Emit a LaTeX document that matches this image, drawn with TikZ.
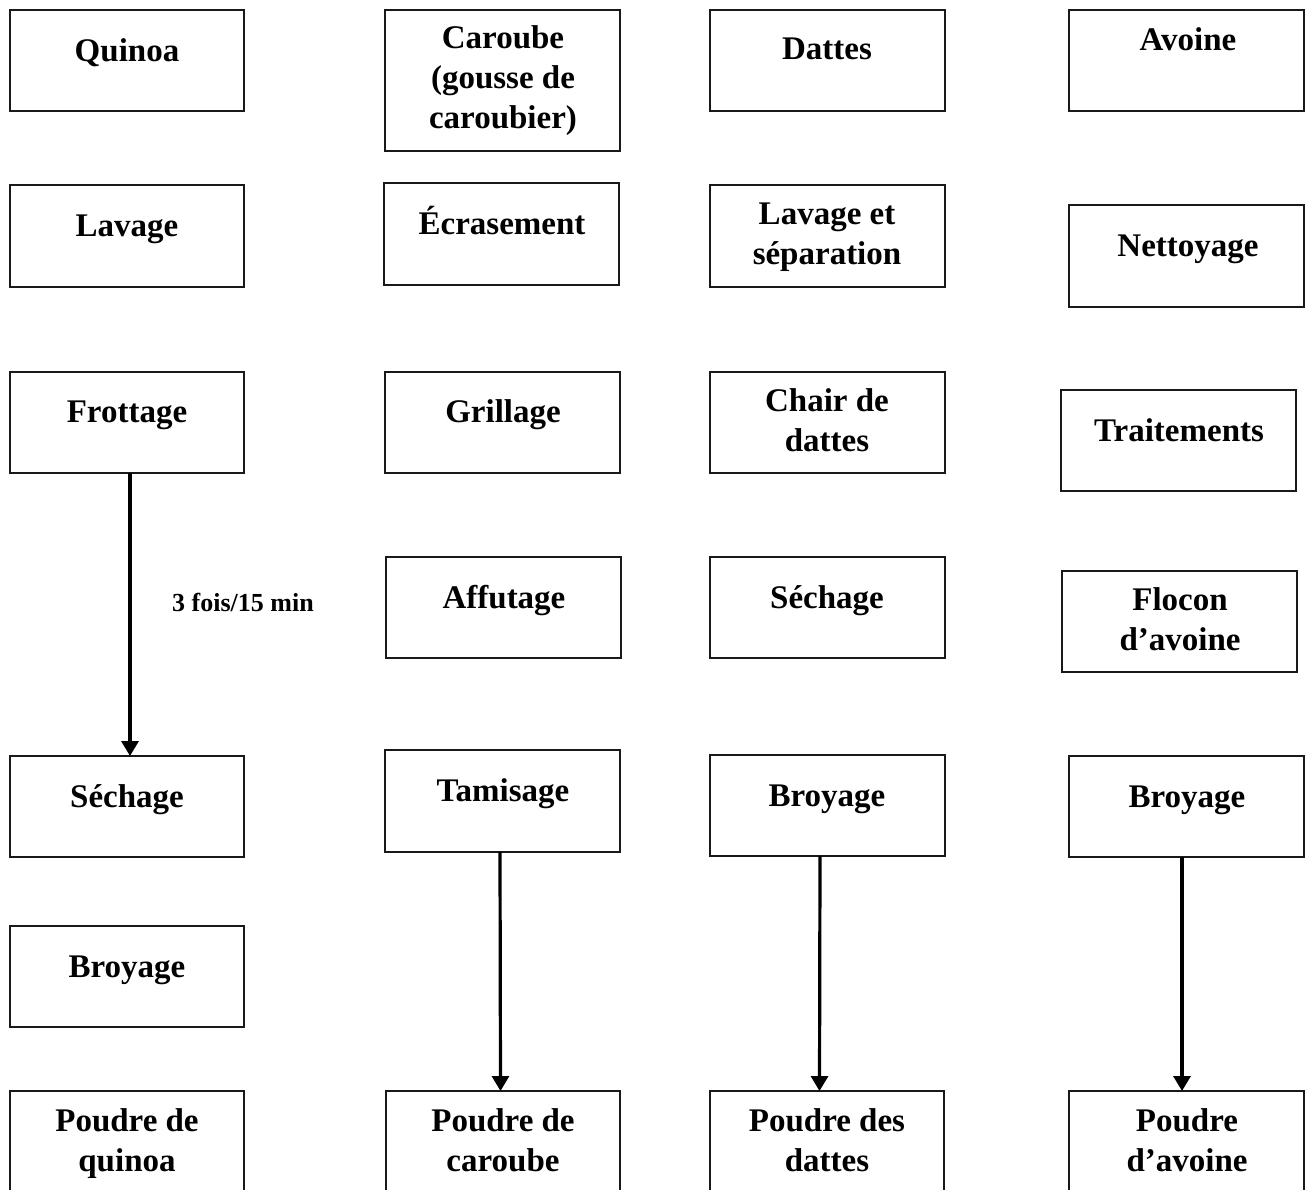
\documentclass[tikz,border=0pt]{standalone}
\usepackage{fontspec}
\setmainfont{Liberation Serif}
\usetikzlibrary{arrows.meta,fit}
\begin{document}
\begin{tikzpicture}[x=0.5pt,y=-0.5pt,
  box/.style={draw=black!90,line width=1.2pt,inner sep=0pt,outer sep=0pt,rectangle},
  txt/.style={font=\fontsize{16.5pt}{20pt}\selectfont\bfseries,align=center,inner sep=0pt,anchor=base},
  lbl/.style={font=\fontsize{13pt}{15pt}\selectfont\bfseries,inner sep=0pt,anchor=base},
  arr/.style={line width=1.6pt,-{Triangle[width=8.5pt,length=7.5pt]}}]
\useasboundingbox (0,0) rectangle (1306,1189);
\fill[white] (0,0) rectangle (1306,1189);
\clip (0,0) rectangle (1306,1189);
% column 1
\node[box,fit={(10,10)(244,111)}] (q1) {};
\node[box,fit={(10,185)(244,287)}] (q2) {};
\node[box,fit={(10,372)(244,473)}] (q3) {};
\node[box,fit={(10,756)(244,857)}] (q4) {};
\node[box,fit={(10,926)(244,1027)}] (q5) {};
\node[box,fit={(10,1091)(244,1210)}] (q6) {};
\node[txt] (q1t) at (127,61) {Quinoa};
\node[txt] (q2t) at (127,236) {Lavage};
\node[txt] (q3t) at (127,422) {Frottage};
\node[txt] (q4t) at (127,807) {Séchage};
\node[txt] (q5t) at (127,977) {Broyage};
\node[txt] (q6t) at (127,1171) {Poudre de\\quinoa};
% column 2
\node[box,fit={(385,10)(620,151)}] (c1) {};
\node[box,fit={(384,183)(619,285)}] (c2) {};
\node[box,fit={(385,372)(620,473)}] (c3) {};
\node[box,fit={(386,557)(621,658)}] (c4) {};
\node[box,fit={(385,750)(620,852)}] (c5) {};
\node[box,fit={(386,1091)(620,1210)}] (c6) {};
\node[txt] (c1t) at (503,128) {Caroube\\(gousse de\\caroubier)};
\node[txt] (c2t) at (502,234) {Écrasement};
\node[txt] (c3t) at (503,422) {Grillage};
\node[txt] (c4t) at (504,608) {Affutage};
\node[txt] (c5t) at (503,801) {Tamisage};
\node[txt] (c6t) at (503,1171) {Poudre de\\caroube};
% column 3
\node[box,fit={(710,10)(945,111)}] (d1) {};
\node[box,fit={(710,185)(945,287)}] (d2) {};
\node[box,fit={(710,372)(945,473)}] (d3) {};
\node[box,fit={(710,557)(945,658)}] (d4) {};
\node[box,fit={(710,755)(945,856)}] (d5) {};
\node[box,fit={(710,1091)(944,1210)}] (d6) {};
\node[txt] (d1t) at (827,59) {Dattes};
\node[txt] (d2t) at (827,264) {Lavage et\\séparation};
\node[txt] (d3t) at (827,451) {Chair de\\dattes};
\node[txt] (d4t) at (827,608) {Séchage};
\node[txt] (d5t) at (827,806) {Broyage};
\node[txt] (d6t) at (827,1171) {Poudre des\\dattes};
% column 4
\node[box,fit={(1069,10)(1304,111)}] (a1) {};
\node[box,fit={(1069,205)(1304,307)}] (a2) {};
\node[box,fit={(1061,390)(1296,491)}] (a3) {};
\node[box,fit={(1062,571)(1297,672)}] (a4) {};
\node[box,fit={(1069,756)(1304,857)}] (a5) {};
\node[box,fit={(1069,1091)(1304,1210)}] (a6) {};
\node[txt] (a1t) at (1188,50) {Avoine};
\node[txt] (a2t) at (1188,256) {Nettoyage};
\node[txt] (a3t) at (1179,441) {Traitements};
\node[txt] (a4t) at (1180,650) {Flocon\\d’avoine};
\node[txt] (a5t) at (1187,807) {Broyage};
\node[txt] (a6t) at (1187,1171) {Poudre\\d’avoine};
% label
\node[lbl] (lab) at (243,611) {3 fois/15 min};
% arrows
\draw[arr] ([xshift=1.5pt]q3.south) -- ([xshift=1.5pt]q4.north);
\draw[arr] ([xshift=-1.25pt]c5.south) -- ([xshift=-1.25pt]c6.north);
\draw[arr] ([xshift=-3.75pt]d5.south) -- ([xshift=-3.75pt]d6.north);
\draw[arr] ([xshift=-2.25pt]a5.south) -- ([xshift=-2.25pt]a6.north);
\end{tikzpicture}
\end{document}
